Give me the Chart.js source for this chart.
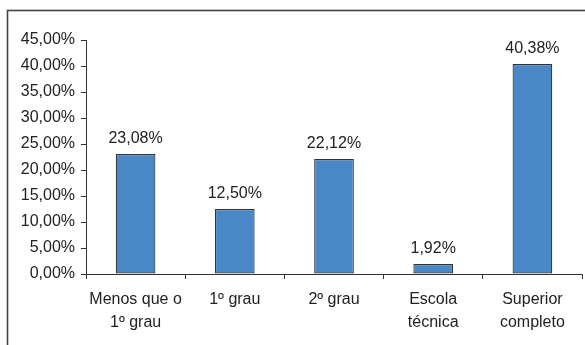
<!DOCTYPE html>
<html>
<head>
<meta charset="utf-8">
<script src="https://cdn.jsdelivr.net/npm/chart.js@4"></script>
<style>
  body { margin: 0; background: #fff; }
  canvas { display: block; }
</style>
</head>
<body>
<canvas id="myChart" width="585" height="345"></canvas>
<script>
const categories = [['Menos que o', '1º grau'], '1º grau', '2º grau', ['Escola', 'técnica'], ['Superior', 'completo']];
const values = [23.08, 12.50, 22.12, 1.92, 40.38];

const fmt = v => v.toFixed(2).replace('.', ',') + '%';

// outer frame, cut off at right and bottom like the original
const frame = {
    id: 'frame',
    beforeDraw(chart) {
        const ctx = chart.ctx;
        ctx.save();
        ctx.strokeStyle = '#444';
        ctx.lineWidth = 1.6;
        ctx.strokeRect(7.5, 10.5, 700, 500);
        ctx.restore();
    }
};

const barLabels = {
    id: 'barLabels',
    afterDatasetsDraw(chart) {
        const ctx = chart.ctx;
        ctx.save();
        ctx.font = '16px "Liberation Sans", Arial, sans-serif';
        ctx.fillStyle = '#222';
        ctx.textAlign = 'center';
        ctx.textBaseline = 'alphabetic';
        chart.getDatasetMeta(0).data.forEach((bar, i) => {
            ctx.fillText(fmt(values[i]), bar.x, bar.y - 11);
        });
        ctx.restore();
    }
};

const data = {
    labels: categories,
    datasets: [{
        data: values,
        backgroundColor: 'rgb(74, 135, 199)',
        borderColor: '#333',
        borderWidth: 1.2,
        borderSkipped: false,
        barPercentage: 0.4,
        categoryPercentage: 1
    }]
};

const options = {
    responsive: false,
    animation: false,
    devicePixelRatio: 1,
    layout: { padding: { top: 40, right: 3, left: 0, bottom: 0 } },
    plugins: {
        legend: { display: false },
        tooltip: { enabled: false }
    },
    scales: {
        x: {
            grid: { drawOnChartArea: false, tickLength: 5, color: '#333' },
            border: { color: '#333', width: 1 },
            ticks: {
                color: '#222',
                padding: 9,
                maxRotation: 0,
                autoSkip: false,
                font: { family: '"Liberation Sans", Arial, sans-serif', size: 16, lineHeight: 1.44 }
            },
            afterFit(scale) { scale.height = 71; }
        },
        y: {
            min: 0,
            max: 45,
            grid: { drawOnChartArea: false, tickLength: 5, color: '#333' },
            border: { color: '#333', width: 1 },
            ticks: {
                stepSize: 5,
                color: '#222',
                padding: 6,
                callback: v => fmt(v),
                font: { family: '"Liberation Sans", Arial, sans-serif', size: 16 }
            },
            afterFit(scale) { scale.width = 86; }
        }
    }
};

const config = {
    type: 'bar',
    data,
    options,
    plugins: [frame, barLabels]
};

const myChart = new Chart(document.getElementById('myChart'), config);
</script>
</body>
</html>
